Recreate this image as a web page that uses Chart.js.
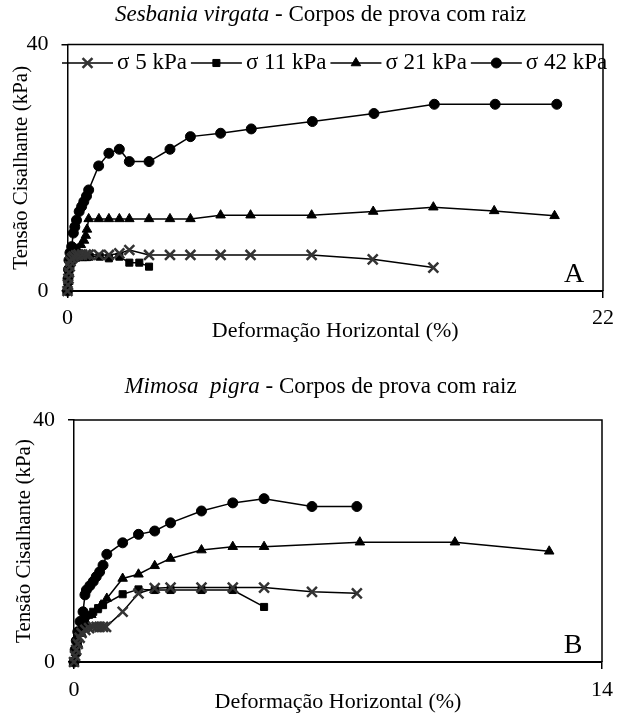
<!DOCTYPE html>
<html>
<head>
<meta charset="utf-8">
<script src="https://cdn.jsdelivr.net/npm/chart.js@4.4.0/dist/chart.umd.min.js"></script>
<style>
  body { margin: 0; background: #fff; }
  #wrap { position: relative; width: 621px; height: 715px; font-family: "Liberation Serif", "Times New Roman", serif; color: #000; }
  .panel { position: absolute; left: 0; width: 621px; }
  .title { position: absolute; left: 10px; width: 621px; text-align: center; font-size: 23px; white-space: pre; line-height: 28px; }
</style>
</head>
<body>
<div id="wrap">
  <div class="panel" style="top:0; height:357px"><canvas id="chartA"></canvas></div>
  <div class="panel" style="top:357px; height:358px"><canvas id="chartB"></canvas></div>
  <div class="title" style="top:0px"><i>Sesbania virgata</i> - Corpos de prova com raiz</div>
  <div class="title" style="top:372px"><i>Mimosa  pigra</i> - Corpos de prova com raiz</div>
</div>
<script>
const FONT = "'Liberation Serif', 'Times New Roman', serif";

const seriesLabels = ['σ 5 kPa', 'σ 11 kPa', 'σ 21 kPa', 'σ 42 kPa'];

// Sesbania virgata (A)
const sesb5X  = [0, 0.02, 0.04, 0.06, 0.09, 0.12, 0.18, 0.25, 0.35, 0.45, 0.6, 0.75, 0.87, 1.29, 1.70, 2.13, 2.54, 3.35, 4.21, 5.05, 6.29, 7.52, 10.03, 12.54, 15.03];
const sesb5Y  = [0, 1, 2, 3, 4, 4.8, 5.3, 5.6, 5.8, 5.9, 5.9, 5.9, 5.9, 5.85, 5.85, 6.1, 6.65, 5.85, 5.85, 5.85, 5.85, 5.85, 5.85, 5.14, 3.8];
const sesb11X = [0, 0.02, 0.05, 0.08, 0.12, 0.18, 0.25, 0.35, 0.5, 0.65, 0.8, 0.91, 1.32, 1.70, 2.13, 2.54, 2.95, 3.35];
const sesb11Y = [0, 1.2, 2.5, 3.5, 4.3, 4.9, 5.2, 5.4, 5.5, 5.5, 5.5, 5.57, 5.57, 5.3, 5.57, 4.6, 4.6, 3.95];
const sesb21X = [0, 0.03, 0.06, 0.1, 0.15, 0.25, 0.4, 0.55, 0.68, 0.75, 0.8, 0.87, 1.29, 1.70, 2.13, 2.54, 3.35, 4.21, 5.05, 6.29, 7.52, 10.03, 12.56, 15.03, 17.53, 20.01];
const sesb21Y = [0, 1.5, 3, 4.5, 5.5, 6.2, 6.8, 7.5, 8.2, 9, 10, 11.7, 11.7, 11.7, 11.7, 11.7, 11.7, 11.7, 11.7, 12.3, 12.3, 12.3, 12.9, 13.6, 13.0, 12.2];
const sesb42X = [0, 0.02, 0.04, 0.06, 0.1, 0.17, 0.24, 0.3, 0.37, 0.48, 0.58, 0.67, 0.78, 0.87, 1.28, 1.70, 2.13, 2.54, 3.35, 4.21, 5.05, 6.29, 7.55, 10.06, 12.59, 15.07, 17.57, 20.1];
const sesb42Y = [0, 2, 3.5, 5, 6.2, 7.2, 9.4, 10.4, 11.5, 12.9, 13.7, 14.5, 15.4, 16.4, 20.3, 22.35, 23.0, 21.0, 21.0, 23.0, 25.05, 25.6, 26.3, 27.5, 28.8, 30.3, 30.3, 30.3];

// Mimosa pigra (B)
const mim5X  = [0, 0.03, 0.06, 0.1, 0.15, 0.2, 0.3, 0.4, 0.51, 0.6, 0.68, 0.77, 0.85, 1.29, 1.71, 2.14, 2.56, 3.38, 4.21, 5.04, 6.31, 7.5];
const mim5Y  = [0, 1, 2, 3, 4, 4.8, 5.3, 5.6, 5.8, 5.8, 5.8, 5.8, 5.8, 8.3, 11.35, 12.2, 12.3, 12.3, 12.3, 12.3, 11.6, 11.35];
const mim11X = [0, 0.05, 0.1, 0.16, 0.22, 0.29, 0.4, 0.51, 0.64, 0.77, 1.29, 1.71, 2.14, 2.56, 3.38, 4.21, 5.04];
const mim11Y = [0, 1.5, 3, 4.8, 6, 7.2, 7.8, 8.3, 8.9, 9.4, 11.2, 12.0, 11.9, 11.9, 11.9, 11.9, 9.1];
const mim21X = [0, 0.05, 0.1, 0.2, 0.33, 0.46, 0.6, 0.72, 0.87, 1.29, 1.71, 2.14, 2.56, 3.38, 4.21, 5.04, 7.58, 10.1, 12.6];
const mim21Y = [0, 1.5, 3, 4.7, 6.4, 7.8, 8.6, 9.4, 10.5, 13.8, 14.5, 15.9, 17.1, 18.5, 19.06, 19.06, 19.8, 19.8, 18.3];
const mim42X = [0, 0.03, 0.06, 0.1, 0.16, 0.24, 0.29, 0.33, 0.42, 0.51, 0.59, 0.68, 0.77, 0.87, 1.29, 1.71, 2.14, 2.56, 3.38, 4.21, 5.04, 6.31, 7.5];
const mim42Y = [0, 2, 3.5, 5, 6.7, 8.3, 11.1, 11.9, 12.6, 13.3, 14.1, 14.9, 16.0, 17.8, 19.7, 21.1, 21.65, 23.0, 24.96, 26.3, 27.0, 25.7, 25.7];

const yTicks = [0, 40];
const xMaxA = 22;
const xMaxB = 14;

// marker look per series: x, square, triangle, circle
const markers = [
    { style: 'crossRot', radius: 7, color: '#333', width: 2.5 },
    { style: 'rect', radius: 5, color: '#000', width: 1 },
    { style: 'triangle', radius: 5.5, color: '#000', width: 1 },
    { style: 'circle', radius: 5, color: '#000', width: 1 }
];

function pairs(xs, ys) {
    return xs.map((x, i) => ({ x: x, y: ys[i] }));
}

function makeDatasets(list) {
    return list.map((d, i) => ({
        label: seriesLabels[i],
        data: pairs(d[0], d[1]),
        borderColor: '#000',
        borderWidth: 1.5,
        pointStyle: markers[i].style,
        pointRadius: markers[i].radius,
        pointBackgroundColor: markers[i].color,
        pointBorderColor: markers[i].color,
        pointBorderWidth: markers[i].width,
        tension: 0,
        clip: false
    }));
}

// line + marker legend, drawn inside the plot like the original
const legendLine = {
    id: 'legendLine',
    afterDraw(chart, args, opts) {
        if (!opts.show) return;
        const ctx = chart.ctx;
        ctx.save();
        ctx.font = opts.size + 'px ' + FONT;
        ctx.textBaseline = 'middle';
        let x = opts.x;
        const y = opts.y;
        chart.data.datasets.forEach(ds => {
            ctx.strokeStyle = '#000';
            ctx.lineWidth = 1.5;
            ctx.beginPath();
            ctx.moveTo(x, y);
            ctx.lineTo(x + opts.lineLen, y);
            ctx.stroke();
            ctx.fillStyle = ds.pointBackgroundColor;
            ctx.strokeStyle = ds.pointBorderColor;
            ctx.lineWidth = ds.pointBorderWidth;
            Chart.helpers.drawPoint(ctx, { pointStyle: ds.pointStyle, radius: ds.pointRadius, borderWidth: ds.pointBorderWidth, rotation: 0 }, x + opts.lineLen / 2, y);
            x += opts.lineLen + 4;
            ctx.fillStyle = '#000';
            ctx.fillText(ds.label, x, y);
            x += ctx.measureText(ds.label).width + 4;
        });
        ctx.restore();
    }
};

// top/right border of the plot and the panel letter
const frame = {
    id: 'frame',
    afterDatasetsDraw(chart, args, opts) {
        const ctx = chart.ctx;
        const a = chart.chartArea;
        ctx.save();
        ctx.strokeStyle = '#000';
        ctx.lineWidth = 1.5;
        ctx.beginPath();
        ctx.moveTo(a.left, a.top);
        ctx.lineTo(a.right, a.top);
        ctx.lineTo(a.right, a.bottom);
        ctx.stroke();
        ctx.font = '28px ' + FONT;
        ctx.fillStyle = '#000';
        ctx.textAlign = 'center';
        ctx.textBaseline = 'middle';
        ctx.fillText(opts.letter, a.right - 29, a.bottom - 16);
        ctx.restore();
    }
};

function makeChart(canvasId, datasets, cfg) {
    return new Chart(document.getElementById(canvasId), {
        type: 'line',
        data: { datasets: datasets },
        plugins: [legendLine, frame],
        options: {
            responsive: true,
            maintainAspectRatio: false,
            animation: false,
            events: [],
            layout: { padding: { top: cfg.top, right: 12, left: 0, bottom: 0 } },
            scales: {
                x: {
                    type: 'linear',
                    min: 0,
                    max: cfg.xMax,
                    afterBuildTicks: s => { s.ticks = [{ value: 0 }, { value: cfg.xMax }]; },
                    ticks: { color: '#000', font: { family: FONT, size: 22 }, padding: cfg.xTickPad, maxRotation: 0 },
                    grid: { drawOnChartArea: false, drawTicks: true, tickLength: 7, color: '#000', lineWidth: 1.5 },
                    border: { color: '#000', width: 2 },
                    title: { display: true, text: 'Deformação Horizontal (%)', color: '#000', font: { family: FONT, size: 22 }, padding: { top: 0, bottom: cfg.xTitlePad } },
                    afterFit: s => { s.height = cfg.xHeight; }
                },
                y: {
                    type: 'linear',
                    min: 0,
                    max: 40,
                    afterBuildTicks: s => { s.ticks = yTicks.map(v => ({ value: v })); },
                    ticks: { color: '#000', font: { family: FONT, size: 22 }, padding: 13 },
                    grid: { drawOnChartArea: false, drawTicks: true, tickLength: 6, color: '#000', lineWidth: 1.5 },
                    border: { color: '#000', width: 1.5 },
                    title: { display: true, text: 'Tensão Cisalhante (kPa)', color: '#000', font: { family: FONT, size: 21 }, padding: { top: cfg.yTitlePad, bottom: 0 } },
                    afterFit: s => { s.width = cfg.left; }
                }
            },
            plugins: {
                legend: { display: false },
                tooltip: { enabled: false },
                legendLine: { show: cfg.legend, x: 62, y: 63, lineLen: 51, size: 23 },
                frame: { letter: cfg.letter }
            }
        }
    });
}

makeChart('chartA', makeDatasets([[sesb5X, sesb5Y], [sesb11X, sesb11Y], [sesb21X, sesb21Y], [sesb42X, sesb42Y]]), {
    xMax: xMaxA, top: 44.5, left: 67.5, xHeight: 66, xTickPad: 7, xTitlePad: 13, yTitlePad: 9, legend: true, letter: 'A'
});

makeChart('chartB', makeDatasets([[mim5X, mim5Y], [mim11X, mim11Y], [mim21X, mim21Y], [mim42X, mim42Y]]), {
    xMax: xMaxB, top: 63, left: 74, xHeight: 53, xTickPad: 8, xTitlePad: 0, yTitlePad: 12, legend: false, letter: 'B'
});
</script>
</body>
</html>
